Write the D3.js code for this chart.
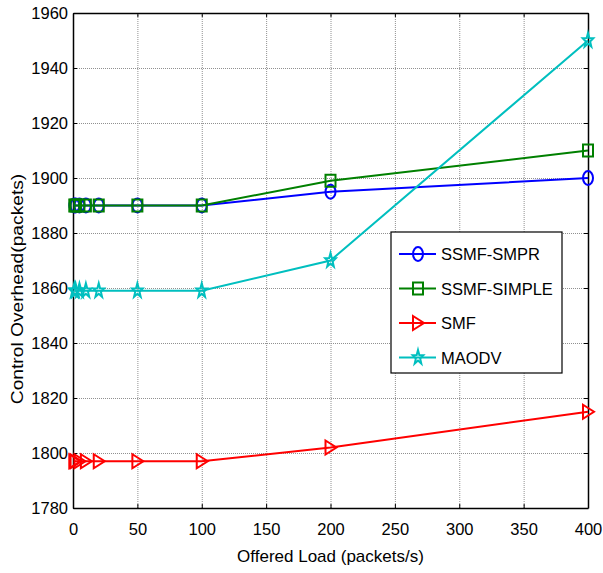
<!DOCTYPE html>
<html>
<head>
<meta charset="utf-8">
<script src="https://cdn.jsdelivr.net/npm/d3@7"></script>
<style>
  html, body { margin: 0; padding: 0; background: #fff; }
  svg { display: block; font-family: "Liberation Sans", Arial, sans-serif; }
</style>
</head>
<body>
<svg id="chart" width="603" height="573"></svg>
<script>
// Offered load (packets/s) sampled in the simulation
const loads = [1, 2, 5, 10, 20, 50, 100, 200, 400];

// Control overhead (packets) for each protocol
const ssmfSmpr   = [1890, 1890, 1890, 1890, 1890, 1890, 1890, 1895, 1900];
const ssmfSimple = [1890, 1890, 1890, 1890, 1890, 1890, 1890, 1899, 1910];
const smf        = [1797, 1797, 1797, 1797, 1797, 1797, 1797, 1802, 1815];
const maodv      = [1859, 1859, 1859, 1859, 1859, 1859, 1859, 1870, 1950];

const seriesNames = ["SSMF-SMPR", "SSMF-SIMPLE", "SMF", "MAODV"];
const seriesColors = ["#0000ff", "#008000", "#ff0000", "#00bfbf"];
const seriesMarkers = ["circle", "square", "triangle", "star"];
const seriesValues = [ssmfSmpr, ssmfSimple, smf, maodv];

const xTicks = [0, 50, 100, 150, 200, 250, 300, 350, 400];
const yTicks = [1780, 1800, 1820, 1840, 1860, 1880, 1900, 1920, 1940, 1960];

(function () {
const svg = d3.select("#chart");
const pLeft = 73, pRight = 588, pTop = 13, pBottom = 508;
const fontSize = "16.5px";

const x = d3.scaleLinear().domain([0, 400]).range([pLeft, pRight]);
const y = d3.scaleLinear().domain([1780, 1960]).range([pBottom, pTop]);

// grid
const grid = svg.append("g").attr("stroke", "#909090").attr("stroke-width", 1)
  .attr("stroke-dasharray", "1,1");
xTicks.slice(1, -1).forEach(t => {
  grid.append("line").attr("x1", x(t) + 0.5).attr("x2", x(t) + 0.5)
    .attr("y1", pTop).attr("y2", pBottom);
});
yTicks.slice(1, -1).forEach(t => {
  grid.append("line").attr("x1", pLeft).attr("x2", pRight)
    .attr("y1", y(t) + 0.5).attr("y2", y(t) + 0.5);
});

// axes with inward ticks
const fmt = d3.format("d");
const xAxisB = d3.axisBottom(x).tickValues(xTicks).tickFormat(fmt).tickSizeInner(-4).tickSizeOuter(0).tickPadding(15);
const xAxisT = d3.axisTop(x).tickValues(xTicks).tickSizeInner(-4).tickSizeOuter(0).tickFormat("");
const yAxisL = d3.axisLeft(y).tickValues(yTicks).tickFormat(fmt).tickSizeInner(-4).tickSizeOuter(0).tickPadding(5);
const yAxisR = d3.axisRight(y).tickValues(yTicks).tickSizeInner(-4).tickSizeOuter(0).tickFormat("");

function styleAxis(g) {
  g.selectAll(".domain").attr("stroke", "#000").attr("stroke-width", 1.5);
  g.selectAll(".tick line").attr("stroke", "#000");
  g.selectAll("text").attr("fill", "#000").style("font-size", fontSize)
    .style("font-family", "'Liberation Sans', Arial, sans-serif");
}
svg.append("g").attr("transform", `translate(0,${pBottom})`).call(xAxisB).call(styleAxis);
svg.append("g").attr("transform", `translate(0,${pTop})`).call(xAxisT).call(styleAxis);
svg.append("g").attr("transform", `translate(${pLeft},0)`).call(yAxisL).call(styleAxis);
svg.append("g").attr("transform", `translate(${pRight},0)`).call(yAxisR).call(styleAxis);

// axis titles
svg.append("text").attr("x", (pLeft + pRight) / 2).attr("y", 562)
  .attr("text-anchor", "middle").style("font-size", "17px").text("Offered Load (packets/s)");
svg.append("text").attr("transform", "translate(23,289) rotate(-90) scale(1.13,1)")
  .attr("text-anchor", "middle").style("font-size", "17px").text("Control Overhead(packets)");

// marker shapes
function markerPath(kind) {
  switch (kind) {
    case "square": return "M-5,-6H5V6H-5Z";
    case "triangle": return "M-5,-7L6,0L-5,7Z";
    case "star": {
      const pts = [];
      for (let i = 0; i < 10; i++) {
        const r = i % 2 === 0 ? 7.5 : 3;
        const a = -Math.PI / 2 + i * Math.PI / 5;
        pts.push([r * Math.cos(a) * 0.75, r * Math.sin(a)]);
      }
      return "M" + pts.map(p => p.join(",")).join("L") + "Z";
    }
  }
  return null;
}
function drawMarker(g, kind, color) {
  if (kind === "circle") {
    g.append("ellipse").attr("rx", 5).attr("ry", 7)
      .attr("fill", "none").attr("stroke", color).attr("stroke-width", 2);
  } else {
    g.append("path").attr("d", markerPath(kind))
      .attr("fill", "none").attr("stroke", color).attr("stroke-width", 2)
      .attr("stroke-linejoin", "miter");
  }
}

const line = d3.line().x(d => x(d[0])).y(d => y(d[1]));

seriesValues.forEach((vals, i) => {
  const pts = loads.map((l, j) => [l, vals[j]]);
  const g = svg.append("g");
  g.append("path").datum(pts).attr("d", line)
    .attr("fill", "none").attr("stroke", seriesColors[i]).attr("stroke-width", 2);
  pts.forEach(p => {
    const m = g.append("g").attr("transform", `translate(${x(p[0])},${y(p[1])})`);
    drawMarker(m, seriesMarkers[i], seriesColors[i]);
  });
});

// legend
const lg = svg.append("g").attr("transform", "translate(391,232)");
lg.append("rect").attr("width", 171).attr("height", 141)
  .attr("fill", "#fff").attr("stroke", "#000").attr("stroke-width", 1.2);
seriesNames.forEach((name, i) => {
  const yy = 22 + i * 34.5;
  lg.append("line").attr("x1", 8).attr("x2", 45).attr("y1", yy).attr("y2", yy)
    .attr("stroke", seriesColors[i]).attr("stroke-width", 2);
  const m = lg.append("g").attr("transform", `translate(27,${yy})`);
  drawMarker(m, seriesMarkers[i], seriesColors[i]);
  lg.append("text").attr("x", 50).attr("y", yy + 6).style("font-size", fontSize)
    .attr("fill", "#000").text(name);
});
})();
</script>
</body>
</html>
